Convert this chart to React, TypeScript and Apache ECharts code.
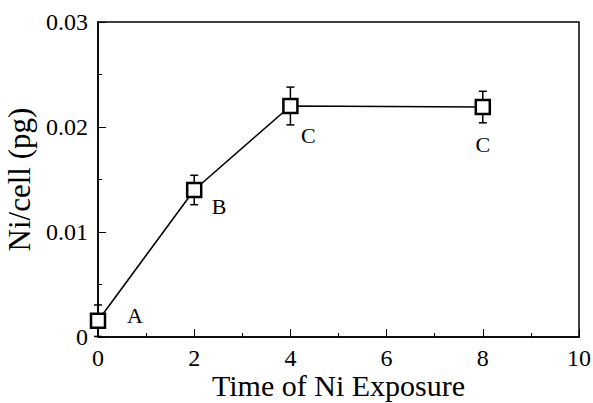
import React, { useEffect, useRef } from "react";
import * as echarts from "echarts";

const times = [0, 2, 4, 8];
const niPerCell = [0.00155, 0.014, 0.022, 0.0219];
const errors = [0.0015, 0.0014, 0.0018, 0.0015];
const groupLetters = ["A", "B", "C", "C"];
const xTicks = [0, 2, 4, 6, 8, 10];
const yTicks = [0, 0.01, 0.02, 0.03];

const labelOffsets = [
  [37, -5],
  [25, 16],
  [18, 29],
  [0, 37],
];

const FONT = "Liberation Serif";

export default function App() {
  const ref = useRef<HTMLDivElement>(null);
  useEffect(() => {
    if (!ref.current) return;
    const chart = echarts.init(ref.current, null, { renderer: "svg" });
    const pts = times.map((t, i) => [t, niPerCell[i]]);
    const errData = times.map((t, i) => [t, niPerCell[i] - errors[i], niPerCell[i] + errors[i]]);
    chart.setOption({
      animation: false,
      backgroundColor: "#fff",
      textStyle: { fontFamily: FONT },
      grid: {
        left: 98,
        right: 14,
        top: 22,
        bottom: 66,
        containLabel: false,
        outerBoundsMode: "none",
        show: true,
        borderColor: "#000",
        borderWidth: 1.5,
        backgroundColor: "transparent",
      },
      xAxis: {
        type: "value",
        min: xTicks[0],
        max: xTicks[xTicks.length - 1],
        interval: 2,
        name: "Time of Ni Exposure",
        nameLocation: "middle",
        nameGap: 32,
        nameMoveOverlap: false,
        nameTextStyle: { fontFamily: FONT, fontSize: 30, lineHeight: 32, color: "#000" },
        axisLine: { show: true, lineStyle: { color: "#000", width: 1.5 } },
        axisTick: { show: true, inside: true, length: 8, lineStyle: { color: "#000", width: 1 } },
        minorTick: { show: true, splitNumber: 2, length: 4, lineStyle: { color: "#000", width: 1 } },
        splitLine: { show: false },
        axisLabel: {
          fontFamily: FONT,
          fontSize: 24,
          color: "#000",
          margin: 9,
          formatter: (v: number) => String(v),
        },
      },
      yAxis: {
        type: "value",
        min: yTicks[0],
        max: yTicks[yTicks.length - 1],
        interval: 0.01,
        name: "Ni/cell (pg)",
        nameLocation: "middle",
        nameGap: 56,
        nameTextStyle: { fontFamily: FONT, fontSize: 31, color: "#000" },
        axisLine: { show: true, lineStyle: { color: "#000", width: 1.5 } },
        axisTick: { show: true, inside: true, length: 8, lineStyle: { color: "#000", width: 1 } },
        minorTick: { show: true, splitNumber: 2, length: 4, lineStyle: { color: "#000", width: 1 } },
        splitLine: { show: false },
        axisLabel: {
          fontFamily: FONT,
          fontSize: 24,
          color: "#000",
          margin: 10,
          formatter: (v: number) => (v === 0 ? "0" : v.toFixed(2)),
        },
      },
      series: [
        {
          type: "custom",
          z: 1,
          data: errData,
          renderItem: (params: any, api: any) => {
            const x = api.value(0);
            const lo = api.coord([x, api.value(1)]);
            const hi = api.coord([x, api.value(2)]);
            const cap = 4;
            const style = { stroke: "#000", lineWidth: 1.5 };
            return {
              type: "group",
              children: [
                { type: "line", shape: { x1: lo[0], y1: lo[1], x2: hi[0], y2: hi[1] }, style },
                { type: "line", shape: { x1: lo[0] - cap, y1: lo[1], x2: lo[0] + cap, y2: lo[1] }, style },
                { type: "line", shape: { x1: hi[0] - cap, y1: hi[1], x2: hi[0] + cap, y2: hi[1] }, style },
              ],
            };
          },
        },
        {
          type: "line",
          z: 3,
          data: pts.map((p, i) => ({
            value: p,
            label: {
              show: true,
              formatter: groupLetters[i],
              position: "inside",
              offset: labelOffsets[i],
              align: "center",
              verticalAlign: "middle",
              fontFamily: FONT,
              fontSize: 22,
              color: "#000",
            },
          })),
          symbol: "rect",
          symbolSize: 14,
          showAllSymbol: true,
          itemStyle: { color: "#fff", borderColor: "#000", borderWidth: 2.5 },
          lineStyle: { color: "#000", width: 1.6 },
        },
      ],
    });
    return () => chart.dispose();
  }, []);
  return <div ref={ref} style={{ width: 593, height: 403, position: "absolute", left: 0, top: 0 }} />;
}
